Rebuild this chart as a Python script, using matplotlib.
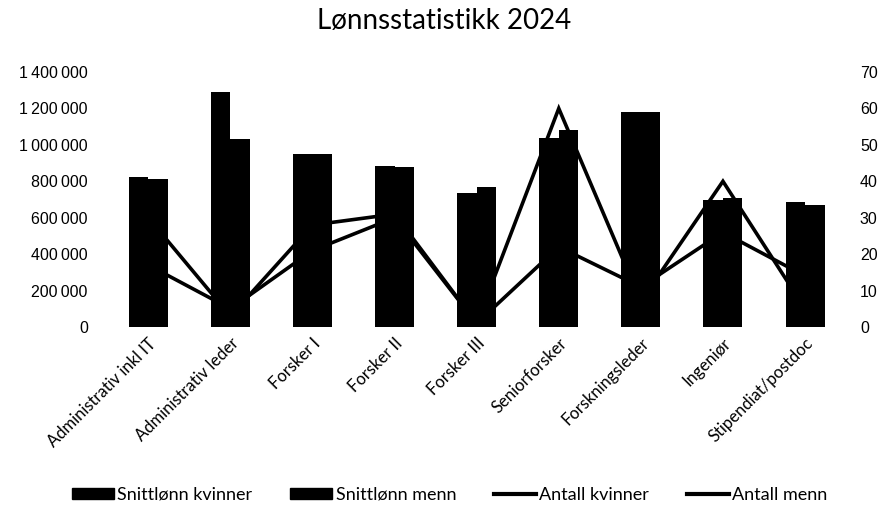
import numpy as np
import matplotlib
matplotlib.use("Agg")
from matplotlib import pyplot as plt
from matplotlib.ticker import FuncFormatter, MultipleLocator
from matplotlib.patches import Patch
from matplotlib.lines import Line2D

# data
kategorier = ["Administrativ inkl IT", "Administrativ leder", "Forsker I", "Forsker II",
              "Forsker III", "Seniorforsker", "Forskningsleder", "Ingeniør",
              "Stipendiat/postdoc"]
snitt_kvinner = [825000, 1290000, 952000, 885000, 735000, 1035000, 1180000, 698000, 685000]
snitt_menn = [813000, 1030000, 950000, 880000, 768000, 1082000, 1178000, 709000, 669000]
antall_kvinner = [17, 5, 21, 30, 1, 22, 11, 26, 14]
antall_menn = [30, 3, 28, 31, 1, 60, 7, 40, 5]

plt.rcParams['font.family'] = ['Liberation Sans', 'DejaVu Sans']
W = 0.2375

fig = plt.figure(figsize=(8.89, 5.09), dpi=100)
ax = fig.add_axes([0.1207, 0.3576, 0.831, 0.5009])
ax2 = ax.twinx()

x = np.arange(len(kategorier))
ax.bar(x - W/2, snitt_kvinner, W, color='black', zorder=2)
ax.bar(x + W/2, snitt_menn, W, color='black', zorder=2)
ax2.plot(x, antall_kvinner, color='black', lw=2.6, solid_joinstyle='miter')
ax2.plot(x, antall_menn, color='black', lw=2.6, solid_joinstyle='miter')

ax.set_xlim(-0.5, len(kategorier) - 0.5)
ax.set_ylim(0, 1400000)
ax2.set_ylim(0, 70)
ax.yaxis.set_major_locator(MultipleLocator(200000))
ax2.yaxis.set_major_locator(MultipleLocator(10))
ax.yaxis.set_major_formatter(FuncFormatter(lambda v, p: f"{v:,.0f}".replace(",", "\u2009")))

for a in (ax, ax2):
    for s in a.spines.values():
        s.set_visible(False)
    a.tick_params(length=0, labelsize=11.5, colors='black')
ax.tick_params(axis='y', pad=14)
ax2.tick_params(axis='y', pad=10)

ax.set_xticks(x)
ax.set_xticklabels(kategorier, rotation=45, ha='right', rotation_mode='anchor',
                   family=['Lato', 'DejaVu Sans'], fontsize=12)
ax.tick_params(axis='x', pad=6)

fig.suptitle("Lønnsstatistikk 2024", x=0.5, y=0.985, fontsize=20,
             family=['Lato', 'DejaVu Sans'])

handles = [Patch(color='black'), Patch(color='black'),
           Line2D([], [], color='black', lw=3), Line2D([], [], color='black', lw=3)]
labels = ["Snittlønn kvinner", "Snittlønn menn", "Antall kvinner", "Antall menn"]
fig.legend(handles, labels, loc='center', bbox_to_anchor=(0.506, 0.028), ncol=4,
           frameon=False, handlelength=2.3, handleheight=0.55, handletextpad=0.2,
           columnspacing=2.1, prop={'family': ['Lato', 'DejaVu Sans'], 'size': 13})

fig.savefig("out.png", dpi=100)
